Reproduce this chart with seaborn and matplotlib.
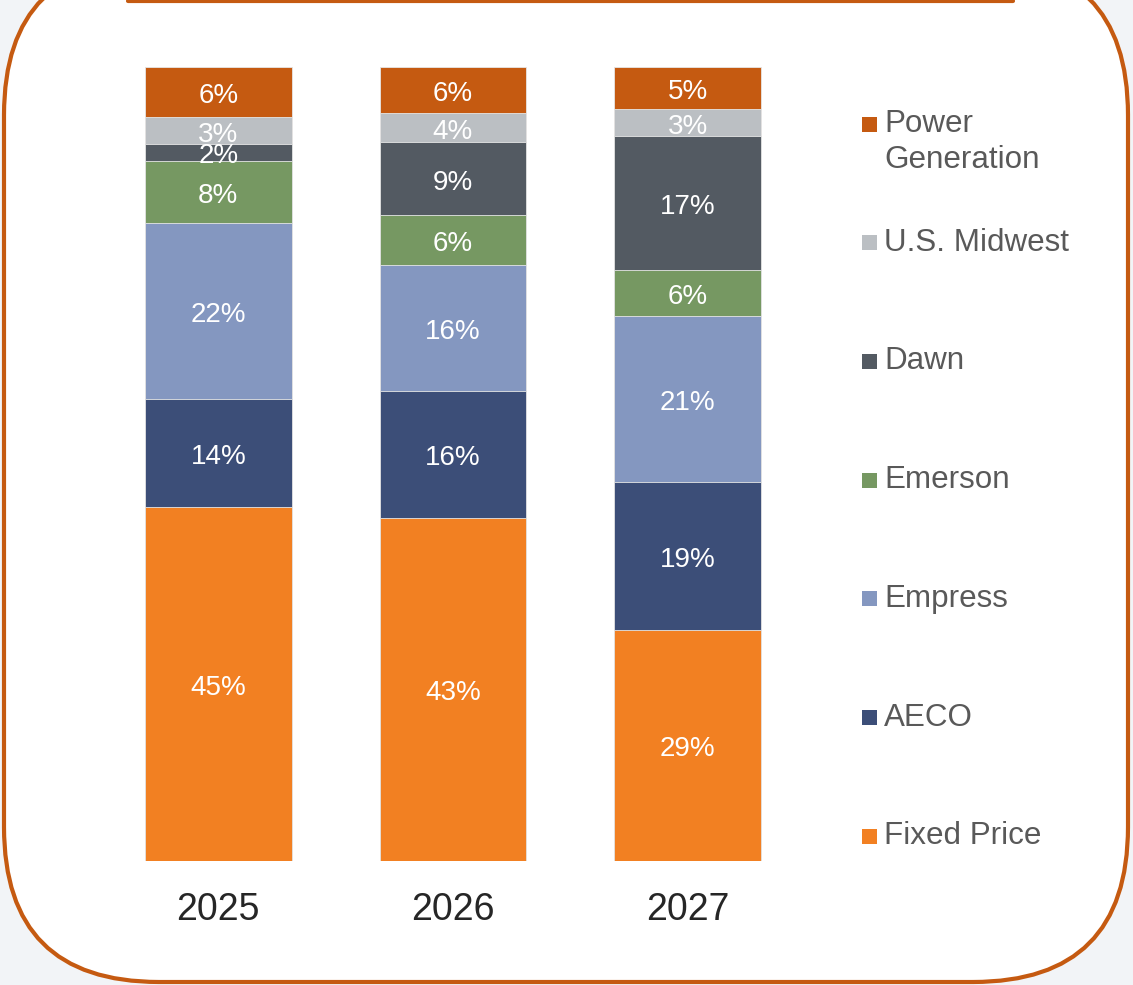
import numpy as np
import pandas as pd
import matplotlib.pyplot as plt
import seaborn as sns
from matplotlib.patches import FancyBboxPatch, Rectangle

sns.set_theme(style="white")
plt.rcParams["font.family"] = ["Liberation Sans", "DejaVu Sans"]

# data (share of volume, %), bottom segment first
years = ["2025", "2026", "2027"]
segments = ["Fixed Price", "AECO", "Empress", "Emerson", "Dawn", "U.S. Midwest", "Power Generation"]
fixed_price = [44.6, 43.2, 29.1]
aeco = [13.6, 16.0, 18.6]
empress = [22.2, 15.9, 20.9]
emerson = [7.8, 6.3, 5.8]
dawn = [2.1, 9.1, 16.9]
us_midwest = [3.4, 3.7, 3.4]
power_gen = [6.3, 5.8, 5.3]

colors = ["#F28022", "#3C4E78", "#8497C0", "#769862", "#535A62", "#BBBFC3", "#C55A11"]
legend_labels = ["Fixed Price", "AECO", "Empress", "Emerson", "Dawn", "U.S. Midwest", "Power\nGeneration"]

df = pd.DataFrame(
    [fixed_price, aeco, empress, emerson, dawn, us_midwest, power_gen],
    index=segments, columns=years,
)
tops = df.cumsum()
bottoms = tops - df

W, H = 1133, 985
fig = plt.figure(figsize=(W / 100, H / 100), dpi=100)
fig.patch.set_facecolor("#F2F4F7")

# background panel in pixel coords
bg = fig.add_axes([0, 0, 1, 1])
bg.set_xlim(0, W)
bg.set_ylim(H, 0)
bg.axis("off")
bg.add_patch(FancyBboxPatch((4, -40), 1124, 1022,
                            boxstyle="round,pad=0,rounding_size=155",
                            facecolor="white", edgecolor="#C55A11", linewidth=3))
bg.plot([128, 1013], [0.5, 0.5], color="#C55A11", lw=3, solid_capstyle="round")

# bars: draw cumulative totals from the top segment down
ax = fig.add_axes([101 / W, (H - 861) / H, 704 / W, 794 / H])
for seg, col in reversed(list(zip(segments, colors))):
    sns.barplot(x=years, y=tops.loc[seg].values, color=col, saturation=1,
                width=0.626, edgecolor="#E6E6E6", linewidth=0.6, ax=ax)

for seg in segments:
    for i, yr in enumerate(years):
        v = df.loc[seg, yr]
        ax.annotate(f"{v:.0f}%", xy=(i, bottoms.loc[seg, yr] + v / 2),
                    xytext=(0, -4), textcoords="offset pixels",
                    ha="center", va="center", color="white", fontsize=20)

ax.set_xlim(-0.5, 2.5)
ax.set_ylim(0, 100)
ax.set_facecolor("none")
ax.set_xlabel("")
ax.set_ylabel("")
ax.set_yticks([])
sns.despine(ax=ax, left=True, bottom=True)
ax.tick_params(axis="x", length=0, pad=22, labelsize=27, labelcolor="#262626")

# legend (top entry first)
leg_x, leg_y0, leg_step = 862, 124, 118.7
for k, (lab, col) in enumerate(zip(reversed(legend_labels), reversed(colors))):
    y = leg_y0 + k * leg_step
    bg.add_patch(Rectangle((leg_x, y - 7.5), 15, 15, facecolor=col, edgecolor="none"))
    ty = y + 18 if "\n" in lab else y
    bg.text(leg_x + 22, ty, lab, ha="left", va="center", fontsize=22.6,
            color="#595959", linespacing=1.28)

fig.savefig("out.png", dpi=100, facecolor=fig.get_facecolor())
